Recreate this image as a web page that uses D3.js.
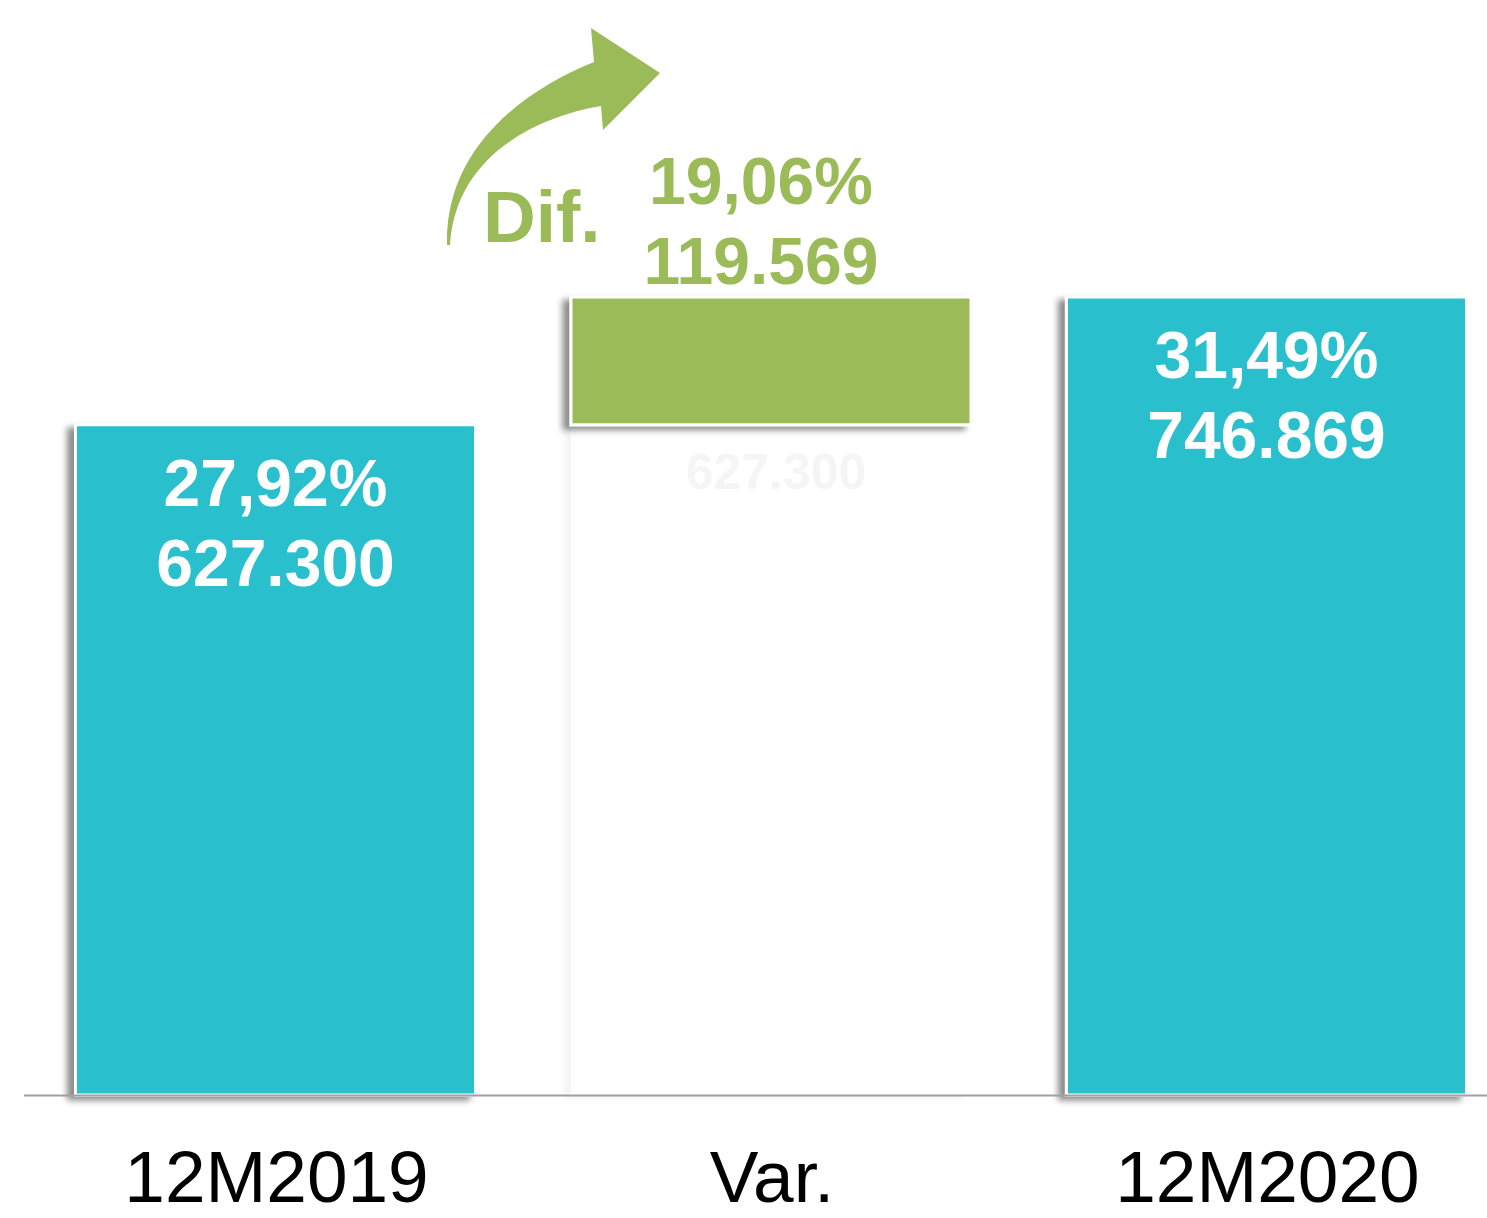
<!DOCTYPE html>
<html>
<head>
<meta charset="utf-8">
<script src="https://cdn.jsdelivr.net/npm/d3@7"></script>
<style>
  body { margin: 0; background: #fff; }
  svg { display: block; font-family: "Liberation Sans", Arial, sans-serif; }
</style>
</head>
<body>
<div id="chart"></div>
<script>
// DATA
const categories = ["12M2019", "Var.", "12M2020"];
const startValues = [0, 627300, 0];
const endValues = [627300, 746869, 746869];
const pctLabels = ["27,92%", "19,06%", "31,49%"];
const barColors = ["#2bbfcd", "#9bbb59", "#2bbfcd"];

const width = 1487, height = 1218;
const baseY = 1095;

const esFmt = d3.formatLocale({ decimal: ",", thousands: ".", grouping: [3], currency: ["", ""] }).format(",d");

const data = categories.map((c, i) => ({
  cat: c,
  y0: startValues[i],
  y1: endValues[i],
  pct: pctLabels[i],
  color: barColors[i],
  isVar: i === 1
}));

const svg = d3.select("#chart").append("svg")
  .attr("width", width)
  .attr("height", height);

// drop shadow like the office chart
const defs = svg.append("defs");
function shadow(id, op) {
  defs.append("filter").attr("id", id)
    .attr("x", "-10%").attr("y", "-10%").attr("width", "120%").attr("height", "120%")
    .append("feDropShadow")
    .attr("dx", -7).attr("dy", 4).attr("stdDeviation", 3)
    .attr("flood-color", "#000").attr("flood-opacity", op);
}
shadow("shadow", 0.45);
shadow("ghost", 0.04);

var x = d3.scaleBand()
  .domain(categories)
  .range([28, 1514])
  .paddingInner(0.1927)
  .paddingOuter(0.0959);

var y = d3.scaleLinear()
  .domain([0, d3.max(endValues)])
  .range([baseY, 297]);

// ghost base under the variation bar
let ghost = data.filter(d => d.isVar);
svg.selectAll(".ghost").data(ghost).enter().append("rect")
  .attr("class", "ghost")
  .attr("x", d => x(d.cat))
  .attr("y", d => y(d.y0))
  .attr("width", x.bandwidth())
  .attr("height", d => y(0) - y(d.y0))
  .attr("fill", "#fff")
  .attr("filter", "url(#ghost)");

svg.selectAll(".ghost-label").data(ghost).enter().append("text")
  .attr("x", d => x(d.cat) + x.bandwidth() / 2 + 5)
  .attr("y", d => y(d.y0) + 64)
  .attr("text-anchor", "middle")
  .attr("font-size", 50)
  .attr("font-weight", "bold")
  .attr("fill", "#f5f5f5")
  .text(d => esFmt(d.y0));

// bars
svg.selectAll(".bar").data(data).enter().append("rect")
  .attr("class", "bar")
  .attr("x", d => x(d.cat))
  .attr("y", d => y(d.y1))
  .attr("width", x.bandwidth())
  .attr("height", d => y(d.y0) - y(d.y1))
  .attr("fill", d => d.color)
  .attr("stroke", "#fff")
  .attr("stroke-width", 3)
  .attr("filter", "url(#shadow)");

// axis line
svg.append("line")
  .attr("x1", 24).attr("x2", width)
  .attr("y1", baseY + 0.5).attr("y2", baseY + 0.5)
  .attr("stroke", "#a0a0a0")
  .attr("stroke-width", 2);

// category labels
svg.selectAll(".cat").data(data).enter().append("text")
  .attr("class", "cat")
  .attr("x", d => x(d.cat) + x.bandwidth() / 2 + 1)
  .attr("y", 1202)
  .attr("text-anchor", "middle")
  .attr("font-size", 73)
  .attr("fill", "#000")
  .text(d => d.cat);

// value labels (inside for totals, above for the variation)
let lbl = svg.selectAll(".lbl").data(data).enter().append("g")
  .attr("class", "lbl")
  .attr("transform", d => {
    let cx = x(d.cat) + x.bandwidth() / 2 + (d.isVar ? -10 : 0);
    let ty = d.isVar ? y(d.y1) - 93 : y(d.y1) + 81;
    return `translate(${cx},${ty})`;
  });

lbl.append("text")
  .attr("text-anchor", "middle")
  .attr("font-size", 66)
  .attr("font-weight", "bold")
  .attr("fill", d => d.isVar ? d.color : "#fff")
  .text(d => d.pct);

lbl.append("text")
  .attr("y", 80)
  .attr("text-anchor", "middle")
  .attr("font-size", 66)
  .attr("font-weight", "bold")
  .attr("fill", d => d.isVar ? d.color : "#fff")
  .text(d => esFmt(d.y1 - d.y0));

// curved arrow + "Dif."
svg.append("path")
  .attr("d", "M447,245 C445,150 520,92 594,62 L591,28 L660,73 L603,130 L601,106 C530,118 455,160 450,245 Z")
  .attr("fill", "#9bbb59");

svg.append("text")
  .attr("x", 483)
  .attr("y", 242)
  .attr("font-size", 73)
  .attr("font-weight", "bold")
  .attr("fill", "#9bbb59")
  .text("Dif.");
</script>
</body>
</html>
